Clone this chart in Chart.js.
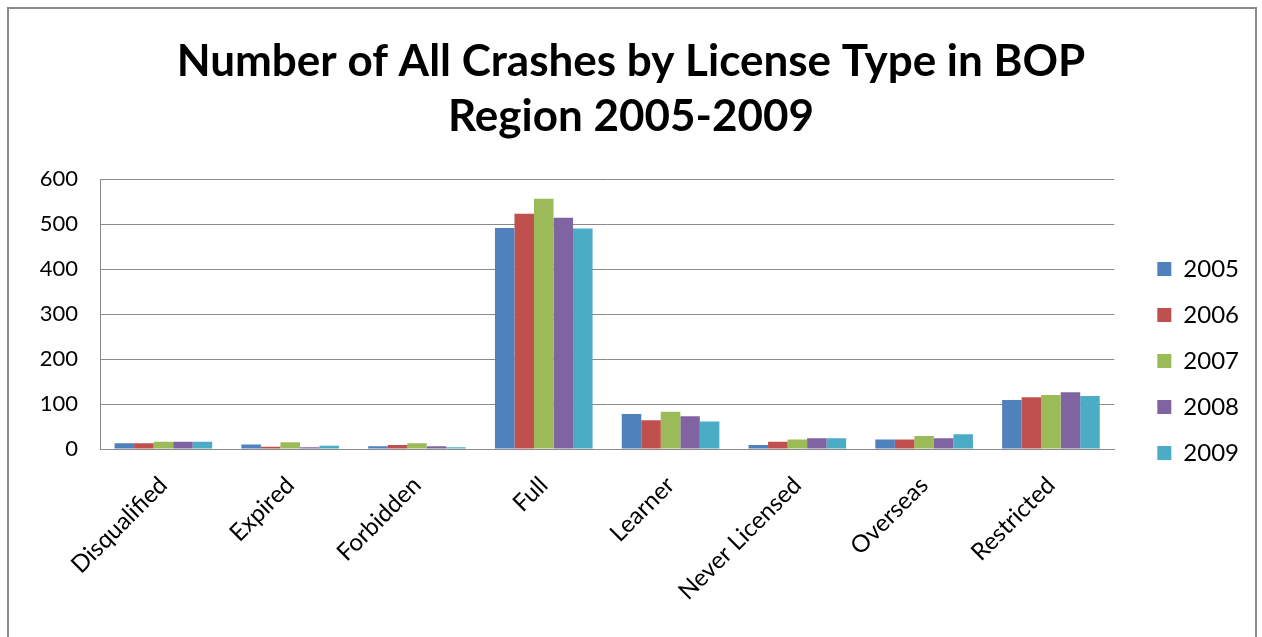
<!DOCTYPE html>
<html>
<head>
<meta charset="utf-8">
<script src="https://cdn.jsdelivr.net/npm/chart.js@4/dist/chart.umd.min.js"></script>
<style>
  html, body { margin: 0; padding: 0; background: #fff; overflow: hidden; }
  #wrap { position: relative; width: 1262px; height: 637px; }
  #frame { position: absolute; left: 7px; top: 7px; width: 1250px; height: 660px; border: 2px solid #8a8a8a; box-sizing: border-box; }
  canvas { position: absolute; left: 0; top: 0; }
</style>
</head>
<body>
<div id="wrap">
  <div id="frame"></div>
  <canvas id="chart" width="1262" height="637"></canvas>
</div>
<script>
const categories = ['Disqualified', 'Expired', 'Forbidden', 'Full', 'Learner', 'Never Licensed', 'Overseas', 'Restricted'];
const years = ['2005', '2006', '2007', '2008', '2009'];
const colors = ['#4F81BD', '#C0504D', '#9BBB59', '#8064A2', '#4BACC6'];

const crashes2005 = [13, 10, 6, 491, 78, 9, 21, 109];
const crashes2006 = [13, 5, 9, 523, 64, 16, 21, 115];
const crashes2007 = [16, 15, 13, 556, 83, 21, 29, 120];
const crashes2008 = [16, 4, 6, 514, 73, 24, 24, 126];
const crashes2009 = [16, 7, 4, 490, 61, 24, 33, 118];
const series = [crashes2005, crashes2006, crashes2007, crashes2008, crashes2009];

const yTicks = [0, 100, 200, 300, 400, 500, 600];
const chartTitle = ['Number of All Crashes by License Type in BOP', 'Region 2005-2009'];

const FONT = 'Lato, "Open Sans", sans-serif';
const GRID = '#8a8a8a';

new Chart(document.getElementById('chart').getContext('2d'), {
  type: 'bar',
  data: {
    labels: categories,
    datasets: years.map((year, i) => ({
      label: year,
      data: series[i],
      backgroundColor: colors[i],
      borderWidth: 0,
      barPercentage: 1,
      categoryPercentage: 0.77
    }))
  },
  options: {
    responsive: false,
    animation: false,
    layout: {
      padding: { left: 13, right: 13, top: 0, bottom: 0 }
    },
    plugins: {
      title: {
        display: true,
        text: chartTitle,
        color: '#000',
        font: { family: FONT, size: 44, weight: 'bold', lineHeight: 1.25 },
        padding: { top: 34, bottom: 35 }
      },
      legend: {
        position: 'right',
        align: 'start',
        // empty legend title only pushes the entries down to sit beside the plot
        title: {
          display: true,
          text: '',
          font: { family: FONT, size: 10, lineHeight: 1 },
          padding: { top: 225, bottom: 0 }
        },
        labels: {
          color: '#000',
          font: { family: FONT, size: 24 },
          boxWidth: 14,
          boxHeight: 14,
          padding: 22
        }
      },
      tooltip: { enabled: false }
    },
    scales: {
      x: {
        grid: { display: false },
        border: { display: true, color: GRID, width: 1 },
        ticks: {
          color: '#000',
          font: { family: FONT, size: 24 },
          maxRotation: 45,
          minRotation: 45,
          padding: 14
        },
        afterFit: s => { s.paddingLeft = 0; s.paddingRight = 0; s.height = 188; }
      },
      y: {
        min: 0,
        max: 600,
        afterBuildTicks: axis => { axis.ticks = yTicks.map(v => ({ value: v })); },
        grid: { color: GRID, lineWidth: 1, drawTicks: false },
        border: { display: true, color: GRID, width: 1 },
        ticks: {
          color: '#000',
          font: { family: FONT, size: 22 },
          padding: 22
        },
        afterFit: s => { s.width = 87; }
      },
      gap: {
        position: 'right',
        display: true,
        grid: { display: false },
        border: { display: false },
        ticks: { display: false },
        afterFit: s => { s.width = 21; }
      }
    }
  }
});
</script>
</body>
</html>
